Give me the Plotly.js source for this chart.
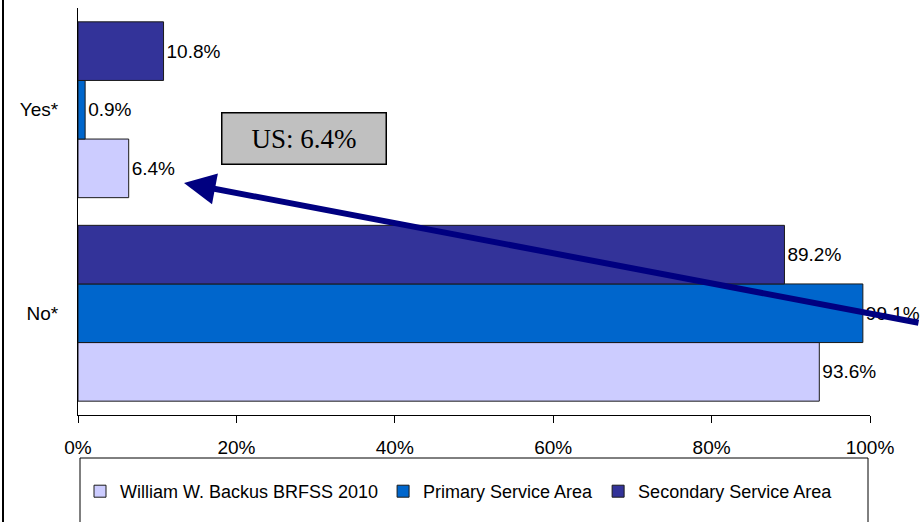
<!DOCTYPE html>
<html>
<head>
<meta charset="utf-8">
<script src="https://cdn.plot.ly/plotly-3.0.1.min.js"></script>
<style>html,body{margin:0;padding:0;background:#fff;}#chart{width:920px;height:522px;}</style>
</head>
<body>
<div id="chart"></div>
<script>
const categories = ['No*', 'Yes*'];
const seriesNames = ['William W. Backus BRFSS 2010', 'Primary Service Area', 'Secondary Service Area'];
const backusValues = [0.936, 0.064];
const primaryValues = [0.991, 0.009];
const secondaryValues = [0.892, 0.108];
const seriesColors = ['#CCCCFF', '#0066CC', '#333399'];
const usValue = 0.064;
const xTickVals = [0, 0.2, 0.4, 0.6, 0.8, 1.0];
const xTickText = ['0%', '20%', '40%', '60%', '80%', '100%'];

const allValues = [backusValues, primaryValues, secondaryValues];
const traces = allValues.map((vals, i) => ({
  type: 'bar',
  orientation: 'h',
  name: seriesNames[i],
  y: categories,
  x: vals,
  text: vals.map(v => (v * 100).toFixed(1) + '%'),
  textposition: 'outside',
  cliponaxis: false,
  constraintext: 'none',
  textfont: {family: 'Liberation Sans, Arial, sans-serif', size: 19, color: '#000'},
  marker: {color: seriesColors[i], line: {color: '#1a1a1a', width: 1}},
  hoverinfo: 'skip'
}));

const L = 78, R = 870, T = 8, B = 415;
const px2paperX = p => (p - L) / (R - L);
const px2paperY = p => (B - p) / (B - T);

const layout = {
  width: 920, height: 522,
  margin: {l: L, r: 920 - R, t: T, b: 522 - B, pad: 0},
  paper_bgcolor: '#fff', plot_bgcolor: '#fff',
  barmode: 'group',
  bargap: 0.136,
  bargroupgap: 0,
  showlegend: true,
  font: {family: 'Liberation Sans, Arial, sans-serif', size: 18, color: '#000'},
  xaxis: {
    range: [0, 1], tickvals: xTickVals, ticktext: xTickText,
    showgrid: false, zeroline: false,
    showline: true, linecolor: '#000', linewidth: 1,
    ticks: 'outside', ticklen: 7, tickcolor: '#000',
    ticklabelstandoff: 8,
    tickfont: {size: 19}, fixedrange: true
  },
  xaxis2: {
    overlaying: 'x', side: 'bottom', anchor: 'y',
    range: [0, 1], tickvals: xTickVals,
    showticklabels: false, showgrid: false, zeroline: false, showline: false,
    ticks: 'inside', ticklen: 7, tickcolor: '#000', fixedrange: true
  },
  yaxis: {
    showgrid: false, zeroline: false,
    showline: true, linecolor: '#000', linewidth: 1,
    ticks: '', ticklabelstandoff: 15,
    tickfont: {size: 19}, fixedrange: true
  },
  legend: {
    orientation: 'h',
    x: px2paperX(80), xanchor: 'left',
    y: px2paperY(473), yanchor: 'top',
    bgcolor: 'rgba(0,0,0,0)', borderwidth: 0,
    font: {size: 18},
    traceorder: 'normal',
    itemclick: false, itemdoubleclick: false
  },
  shapes: [
    {type: 'rect', xref: 'paper', yref: 'paper',
     x0: px2paperX(80), x1: px2paperX(868), y0: px2paperY(458), y1: px2paperY(540),
     line: {color: '#000', width: 1}, fillcolor: 'rgba(0,0,0,0)', layer: 'below'},
    {type: 'line', xref: 'paper', yref: 'paper',
     x0: px2paperX(3), x1: px2paperX(3), y0: px2paperY(0), y1: px2paperY(530),
     line: {color: '#000', width: 2}}
  ],
  annotations: [
    {xref: 'paper', yref: 'paper', x: px2paperX(304), y: px2paperY(138),
     text: 'US: ' + (usValue * 100).toFixed(1) + '%', showarrow: false,
     font: {family: 'Liberation Serif, Times New Roman, serif', size: 27, color: '#000'},
     bgcolor: '#C0C0C0', bordercolor: '#000', borderwidth: 1.5,
     width: 161, height: 48, xanchor: 'center', yanchor: 'middle'},
    {xref: 'paper', yref: 'paper', x: px2paperX(184), y: px2paperY(183),
     text: '', showarrow: true, arrowhead: 2, arrowsize: 1.05, arrowwidth: 6,
     arrowcolor: '#000080', ax: 741, ay: 140, standoff: 0}
  ]
};

Plotly.newPlot('chart', traces, layout, {displayModeBar: false, staticPlot: true});
</script>
</body>
</html>
